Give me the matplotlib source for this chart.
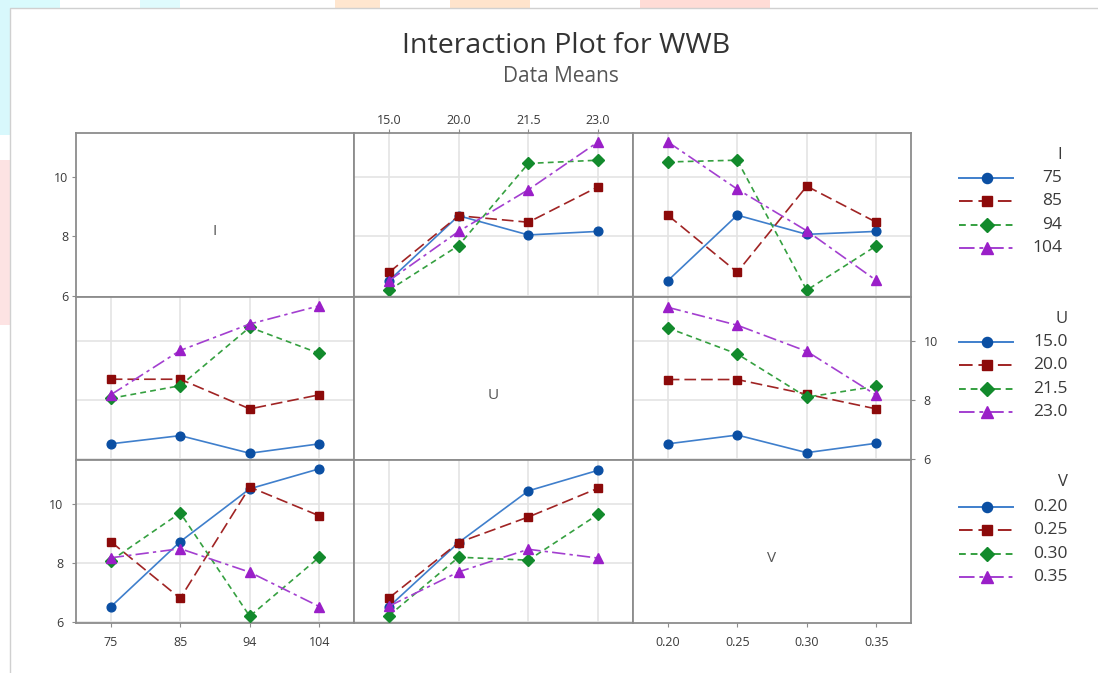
import numpy as np
import matplotlib.pyplot as plt
from matplotlib.patches import Rectangle

# === DATA (means) ===
I_levels = ["75", "85", "94", "104"]
U_levels = ["15.0", "20.0", "21.5", "23.0"]
V_levels = ["0.20", "0.25", "0.30", "0.35"]

# rows = I level, cols = U level
means_IU = np.array([
    [6.50, 8.70, 8.05, 8.17],
    [6.78, 8.70, 8.48, 9.68],
    [6.18, 7.69, 10.47, 10.58],
    [6.50, 8.17, 9.58, 11.20],
])
# rows = I level, cols = V level
means_IV = np.array([
    [6.50, 8.72, 8.07, 8.17],
    [8.72, 6.79, 9.70, 8.48],
    [10.52, 10.58, 6.18, 7.68],
    [11.20, 9.60, 8.19, 6.51],
])
# rows = U level, cols = V level
means_UV = np.array([
    [6.50, 6.80, 6.20, 6.52],
    [8.69, 8.69, 8.19, 7.69],
    [10.45, 9.56, 8.09, 8.46],
    [11.15, 10.54, 9.65, 8.16],
])

factors = ["I", "U", "V"]
levels = {"I": I_levels, "U": U_levels, "V": V_levels}
pair = {("I", "U"): means_IU, ("U", "I"): means_IU.T,
        ("I", "V"): means_IV, ("V", "I"): means_IV.T,
        ("U", "V"): means_UV, ("V", "U"): means_UV.T}

# === STYLE ===
W, H = 1098, 673
line_cols = ["#3f7fcc", "#a02424", "#35a040", "#a33fd0"]
mark_cols = ["#0b4fa3", "#8c0a0a", "#128a2c", "#9a1fc8"]
markers = ["o", "s", "D", "^"]
msizes = [6.3, 6.3, 5.8, 7.3]
dashes = ["-", (0, (7, 3)), (0, (3.5, 2.5)), (0, (8, 2.5, 2, 2.5))]
frame_col = "#8c8c8c"
grid_col = "#e4e4e4"
text_col = "#3a3a3a"
tick_fs = 9
plt.rcParams["font.family"] = ["Open Sans", "DejaVu Sans"]

xb = [76, 354, 633, 911]
yb = [133, 297, 460, 623]

fig = plt.figure(figsize=(W / 100, H / 100), dpi=100)

# background watermark + white card
bg = fig.add_axes([0, 0, 1, 1], zorder=-10)
bg.set_xlim(0, W)
bg.set_ylim(H, 0)
bg.axis("off")
for (x0, y0, w, h, c) in [(0, 0, 60, 10, "#d9fbfd"), (140, 0, 40, 8, "#dffbfd"),
                          (335, 0, 45, 9, "#ffe6cf"), (450, 0, 80, 9, "#ffe4cc"),
                          (640, 0, 130, 9, "#ffdcd6"), (0, 0, 10, 135, "#d8f8fc"),
                          (0, 160, 10, 165, "#fde3e3")]:
    bg.add_patch(Rectangle((x0, y0), w, h, color=c, lw=0))
bg.add_patch(Rectangle((10, 8), W, H, facecolor="white", edgecolor="#d0d0d0", lw=1))

fig.text(566 / W, 1 - 46 / H, "Interaction Plot for WWB", ha="center", va="center",
         fontsize=20.5, fontweight="medium", color="#333333")
fig.text(561 / W, 1 - 77 / H, "Data Means", ha="center", va="center",
         fontsize=15, color="#555555")

ylim = (5.95, 11.5)
for r, fr in enumerate(factors):
    for c, fc in enumerate(factors):
        ax = fig.add_axes([xb[c] / W, 1 - yb[r + 1] / H,
                           (xb[c + 1] - xb[c]) / W, (yb[r + 1] - yb[r]) / H])
        ax.set_xlim(-0.5, 3.5)
        ax.set_ylim(*ylim)
        for s in ax.spines.values():
            s.set_color(frame_col)
            s.set_linewidth(1.3)
        ax.tick_params(colors=frame_col, labelcolor=text_col, labelsize=tick_fs,
                       length=3, width=0.8, pad=2.5)
        ax.set_xticks(range(4))
        ax.set_yticks([6, 8, 10])
        ax.tick_params(bottom=False, left=False, labelbottom=False, labelleft=False)

        if r == c:
            ax.text(1.5, 8.15, fr, ha="center", va="center", fontsize=11, color="#555555")
        else:
            ax.grid(True, color=grid_col, lw=1.2)
            ax.set_axisbelow(True)
            M = pair[(fr, fc)]
            for k in range(4):
                ax.plot(range(4), M[k], color=line_cols[k], ls=dashes[k], lw=1.2,
                        marker=markers[k], ms=msizes[k], mfc=mark_cols[k],
                        mec=mark_cols[k], zorder=3 + k * 0.1)

        # tick labels like the Minitab layout
        if c == 0 and r in (0, 2):
            ax.tick_params(left=True, labelleft=True)
        if r == 1 and c == 2:
            ax.yaxis.tick_right()
            ax.tick_params(right=True, labelright=True, colors=frame_col,
                           labelcolor=text_col, labelsize=tick_fs, length=3, pad=6)
        if r == 0 and c == 1:
            ax.xaxis.tick_top()
            ax.set_xticklabels(levels[fc])
            ax.tick_params(top=True, labeltop=True, colors=frame_col,
                           labelcolor=text_col, labelsize=tick_fs, length=3, pad=1.5)
        if r == 2 and c in (0, 2):
            ax.set_xticklabels(levels[fc])
            ax.tick_params(bottom=True, labelbottom=True, pad=6)

# === LEGENDS (drawn on the overlay axes) ===
leg = fig.add_axes([0, 0, 1, 1], zorder=5)
leg.set_xlim(0, W)
leg.set_ylim(H, 0)
leg.axis("off")
leg_specs = [("I", I_levels, 155, 178, 1062),
             ("U", U_levels, 319, 342, 1068),
             ("V", V_levels, 482, 507, 1068)]
for name, labs, ty, y0, xr in leg_specs:
    leg.text(xr, ty, name, ha="right", va="center", fontsize=12, color=text_col)
    for k, lab in enumerate(labs):
        yy = y0 + k * 23.3
        leg.plot([959, 1013], [yy, yy], color=line_cols[k], ls=dashes[k], lw=1.4)
        leg.plot([987], [yy], marker=markers[k], ms=msizes[k] + 1, color=mark_cols[k], ls="none")
        leg.text(xr, yy, lab, ha="right", va="center", fontsize=12.5, color=text_col)

fig.savefig("out.png", dpi=100)
